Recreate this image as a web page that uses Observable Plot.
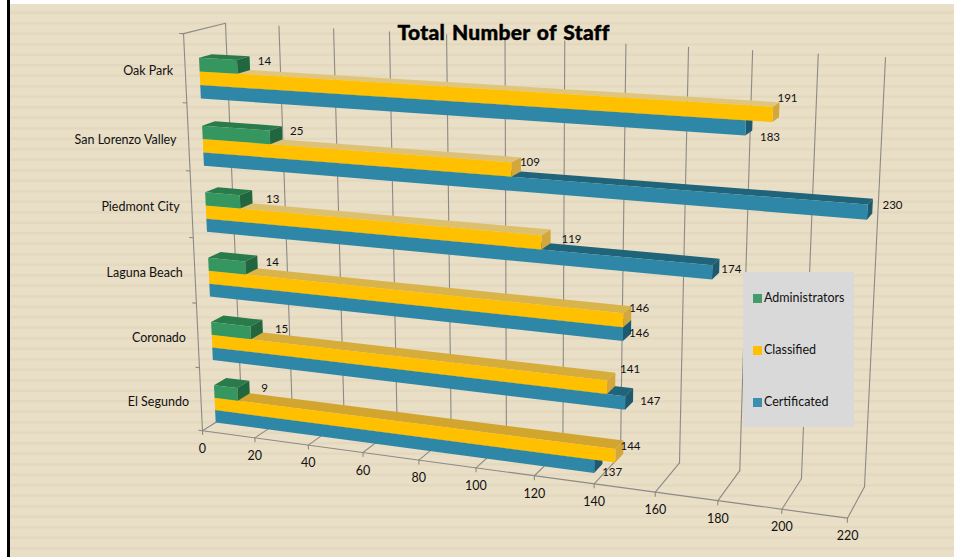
<!DOCTYPE html>
<html>
<head>
<meta charset="utf-8">
<script src="https://cdn.jsdelivr.net/npm/d3@7"></script>
<script src="https://cdn.jsdelivr.net/npm/@observablehq/plot@0.6"></script>
<style>
  html, body { margin: 0; padding: 0; background: #fff; }
  #page { position: relative; width: 954px; height: 557px; overflow: hidden; background: #fff; }
  #paper {
    position: absolute; left: 10px; top: 4px; right: 0; bottom: 0;
    background: repeating-linear-gradient(to bottom, #e9dec6 0, #e9dec6 7px, #e4d8be 8px, #e4d8be 9.5px, #e9dec6 10.5px);
  }
  #rule { position: absolute; left: 7px; top: 0; bottom: 0; width: 3px; background: #000; }
  #page svg { position: absolute; left: 0; top: 0; display: block; background: transparent; }
  #legend { position: absolute; left: 743px; top: 272px; width: 111px; height: 155px; background: #d9d9d9;
    font: 12.5px Lato, sans-serif; color: #111; }
  #legend div { position: absolute; left: 21px; line-height: 14px; white-space: nowrap; }
  #legend i { position: absolute; left: 10px; width: 9px; height: 9px; }
</style>
</head>
<body>
<div id="page"><div id="paper"></div><div id="rule"></div></div>
<script>
const title = "Total Number of Staff";
const categories = ["Oak Park", "San Lorenzo Valley", "Piedmont City", "Laguna Beach", "Coronado", "El Segundo"];
const administrators = [14, 25, 13, 14, 15, 9];
const classified = [191, 109, 119, 146, 141, 144];
const certificated = [183, 230, 174, 146, 147, 137];
const valueTicks = [0, 20, 40, 60, 80, 100, 120, 140, 160, 180, 200, 220];
const axisMax = 220;
const classifiedTops = ["#dfc67c", "#dcc176", "#dcc06e", "#d9b44a", "#d6ac3a", "#d2a62e"];

// Hand placement of each value label, in the order of the rows above
const administratorsLabelShift = [[41, -10], [40, -11], [46, -8], [40, -12], [44, -11], [40, -14]];
const classifiedLabelShift = [[22, -21], [29, -13], [40, -10], [25, -20], [32, -27], [24, -19]];
const certificatedLabelShift = [[32, 4], [31, -13], [27, -10], [25, -9], [34, -11], [27, -4]];

// Where the corners of the chart's box (value, row, depth) fall in the picture
const boxCorners = [
  [[0, 0, 0], [202, 431]], [[220, 0, 0], [847, 517]], [[0, 6, 0], [183, 33]],
  [[0, 0, 1], [241, 405]], [[220, 0, 1], [864, 487]], [[0, 6, 1], [225, 23]], [[220, 6, 1], [885, 57]]
];

// Least-squares camera matrix for those corners
function solveCamera(corners) {
  const A = [], b = [];
  for (const [[v, h, d], [x, y]] of corners) {
    A.push([v, h, d, 1, 0, 0, 0, 0, -x * v, -x * h, -x * d]); b.push(x);
    A.push([0, 0, 0, 0, v, h, d, 1, -y * v, -y * h, -y * d]); b.push(y);
  }
  const n = 11;
  const M = d3.range(n).map(i => [...d3.range(n).map(j => d3.sum(A, r => r[i] * r[j])), d3.sum(A, (r, k) => r[i] * b[k])]);
  for (let c = 0; c < n; c++) {
    let p = c;
    for (let r = c + 1; r < n; r++) if (Math.abs(M[r][c]) > Math.abs(M[p][c])) p = r;
    [M[c], M[p]] = [M[p], M[c]];
    for (let r = 0; r < n; r++) if (r !== c) {
      const f = M[r][c] / M[c][c];
      for (let k = c; k <= n; k++) M[r][k] -= f * M[c][k];
    }
  }
  return M.map((r, i) => r[n] / r[i]);
}
const cam = solveCamera(boxCorners);
const projection = d3.geoTransform({
  point(v, h, d = 0) {
    const w = cam[8] * v + cam[9] * h + cam[10] * d + 1;
    this.stream.point((cam[0] * v + cam[1] * h + cam[2] * d + cam[3]) / w,
                      (cam[4] * v + cam[5] * h + cam[6] * d + cam[7]) / w);
  }
});

const line = (...pts) => ({type: "Feature", geometry: {type: "LineString", coordinates: pts}});
const face = (color, ...pts) => ({type: "Feature", color, geometry: {type: "Polygon", coordinates: [[...pts, pts[0]]]}});

const dFront = 0.33, dBack = 0.64, band = 0.2;
const green = {front: "#36965f", top: "#2a7b4c", end: "#226640"};
const yellow = {front: "#ffc000", end: "#d2a83c"};
const teal = {front: "#2e87a6", top: "#1f6479", end: "#1b5a70"};

function barFaces(datum, h0, c) {
  const value = Math.min(datum, axisMax); // the axis stops at its maximum and cuts longer bars
  const h1 = h0 + band;
  return [
    face(c.top, [0, h1, dFront], [value, h1, dFront], [value, h1, dBack], [0, h1, dBack]),
    face(c.end, [value, h0, dFront], [value, h1, dFront], [value, h1, dBack], [value, h0, dBack]),
    face(c.front, [0, h0, dFront], [value, h0, dFront], [value, h1, dFront], [0, h1, dFront])
  ];
}
const rowBase = i => categories.length - 1 - i;
const faces = d3.range(categories.length).reverse().flatMap(i => [
  ...barFaces(certificated[i], rowBase(i), teal),
  ...barFaces(classified[i], rowBase(i) + band, {...yellow, top: classifiedTops[i]}),
  ...barFaces(administrators[i], rowBase(i) + 2 * band, green)
]);

const grid = [
  ...valueTicks.flatMap(v => [
    line([v, 0, 0], [v, 0, 1]),
    line([v, 0, 1], [v, 6, 1]),
    line([v, 0, 0], [v, -0.06, 0])
  ]),
  line([0, 0, 0], [axisMax, 0, 0]),
  line([0, 0, 0], [0, 6, 0]),
  line([0, 6, 0], [0, 6, 1]),
  ...d3.range(0, 7).map(k => line([0, k, 0], [-1.4, k, 0]))
];

const labelSeries = [
  [administrators, administratorsLabelShift, 0.5],
  [classified, classifiedLabelShift, 0.3],
  [certificated, certificatedLabelShift, 0.1]
];
const labelMarks = labelSeries.flatMap(([values, shifts, offset]) =>
  values.map((value, i) => Plot.text([value], {
    x: d => Math.min(d, axisMax), y: () => rowBase(i) + offset, text: d => String(d),
    dx: shifts[i][0], dy: shifts[i][1], fontSize: 11.5, fill: "#111"
  }))
);

const plot = Plot.plot({
  width: 954, height: 557,
  margin: 0,
  projection,
  style: {background: "transparent", fontFamily: "Lato, sans-serif"},
  color: {type: "identity"},
  marks: [
    Plot.geo(grid, {stroke: "#8c8a86", strokeWidth: 1.1, fill: "none"}),
    Plot.geo(faces, {fill: d => d.color, stroke: "none"}),
    ...labelMarks,
    Plot.text(valueTicks, {x: d => d, y: () => 0, text: d => String(d), dy: 18, fontSize: 12.5, fill: "#111"}),
    Plot.text(categories, {x: () => 0, y: (d, i) => rowBase(i) + 0.5, text: d => d, textAnchor: "end", dx: -12, dy: 2.5, fontSize: 12.5, fill: "#111"}),
    Plot.text([title], {frameAnchor: "top-left", dx: 397, dy: 33, text: d => d, textAnchor: "start", lineAnchor: "middle", fontSize: 21, fontWeight: 900, fill: "#000", stroke: "#000", strokeWidth: 0.4})
  ]
});
d3.select(plot).selectAll("text").filter(function () { return this.textContent === title; })
  .style("letter-spacing", "0.3px").style("word-spacing", "1.5px");
document.getElementById("page").appendChild(plot);

const legendItems = [["Administrators", "#459b6a", 22], ["Classified", "#ffc000", 74], ["Certificated", "#3a8fae", 126]];
const legend = document.createElement("div");
legend.id = "legend";
for (const [name, color, top] of legendItems) {
  const sw = document.createElement("i");
  sw.style.background = color; sw.style.top = top + "px";
  const t = document.createElement("div");
  t.textContent = name; t.style.top = (top - 3) + "px";
  legend.append(sw, t);
}
document.getElementById("page").appendChild(legend);
</script>
</body>
</html>
